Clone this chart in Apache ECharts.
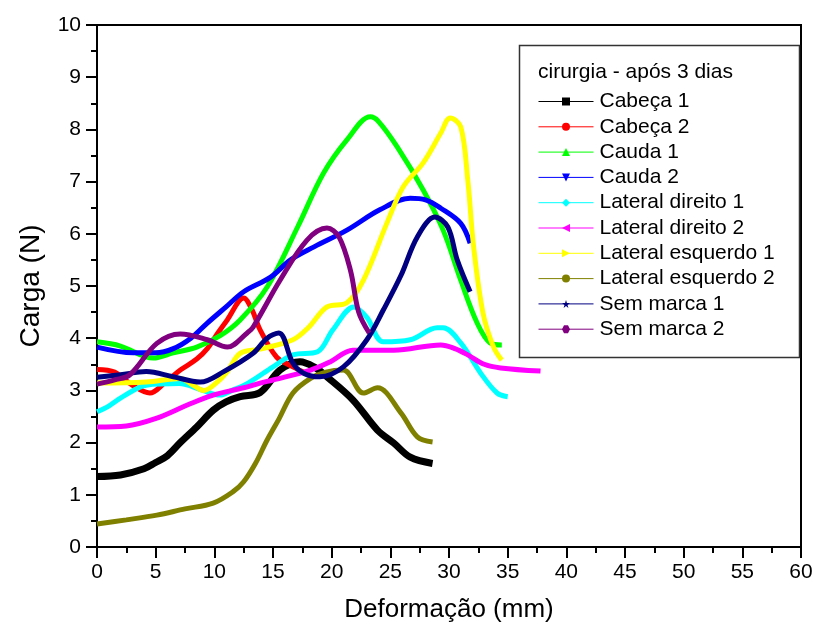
<!DOCTYPE html>
<html>
<head>
<meta charset="utf-8">
<script src="https://cdn.jsdelivr.net/npm/echarts@6/dist/echarts.min.js"></script>
<style>html,body{margin:0;padding:0;background:#fff}#c{width:815px;height:628px}</style>
</head>
<body>
<div id="c"></div>
<script>
const names = ['Cabeça 1','Cabeça 2','Cauda 1','Cauda 2','Lateral direito 1','Lateral direito 2','Lateral esquerdo 1','Lateral esquerdo 2','Sem marca 1','Sem marca 2'];
const colors = ['#000000','#ff0000','#00ff00','#0000ff','#00ffff','#ff00ff','#ffff00','#808000','#000080','#800080'];
const xTicks = [0,5,10,15,20,25,30,35,40,45,50,55,60];
const yTicks = [0,1,2,3,4,5,6,7,8,9,10];

const cabeca1 = [[0,1.35],[2,1.38],[4,1.5],[5,1.62],[6,1.75],[7.1,2.0],[8.5,2.3],[9.9,2.62],[11,2.78],[12.2,2.88],[13.9,2.96],[15.6,3.39],[17.3,3.55],[18.5,3.45],[19.6,3.26],[21.8,2.82],[23.9,2.24],[25.3,1.99],[26.7,1.72],[28.6,1.6]];
const cabeca2 = [[0,3.4],[1.5,3.35],[3,3.1],[4.5,2.95],[5.8,3.15],[7.1,3.39],[8.5,3.6],[9.4,3.8],[10.3,4.1],[11.1,4.35],[12.5,4.77],[13.2,4.55],[13.9,4.16],[15.3,3.64],[16.7,3.45],[17.6,3.35]];
const cauda1 = [[0,3.93],[2,3.85],[4.8,3.62],[6.5,3.72],[8.5,3.83],[10.5,4.05],[12.2,4.35],[14.5,4.98],[17.1,6.13],[19.3,7.16],[21.3,7.8],[23.3,8.24],[24,8.15],[25.6,7.66],[27.8,6.84],[29.5,6.07],[31,5.11],[32.4,4.29],[33.5,3.91],[34.5,3.87]];
const cauda2 = [[0,3.83],[3.1,3.72],[5,3.72],[6.5,3.8],[8,4.0],[9.4,4.29],[11,4.6],[12.5,4.89],[14.8,5.17],[16.5,5.5],[18.5,5.75],[21.3,6.07],[24.1,6.46],[26.7,6.68],[28,6.65],[29.3,6.49],[31,6.2],[31.8,5.82]];
const latDir1 = [[0,2.59],[1,2.7],[2.2,2.88],[4.2,3.1],[7,3.13],[9,3.0],[10.5,2.91],[11.5,3.0],[12.8,3.13],[15,3.45],[16.7,3.68],[18.8,3.74],[20.1,4.16],[21.9,4.6],[23,4.4],[24.4,3.93],[26.7,3.97],[29,4.2],[29.5,4.2],[31,3.91],[32.7,3.33],[34.1,2.95],[35,2.88]];
const latDir2 = [[0,2.3],[2.5,2.32],[5.1,2.47],[7.7,2.72],[9.9,2.91],[12.5,3.05],[13.9,3.14],[15,3.2],[18.2,3.39],[19.9,3.55],[21.8,3.77],[25.3,3.77],[29.3,3.87],[30.5,3.8],[31.6,3.68],[33,3.5],[34.4,3.43],[37.8,3.37]];
const latEsq1 = [[0,3.14],[4.2,3.16],[7.1,3.23],[8.2,3.1],[9.1,3.0],[10.2,3.15],[11.1,3.36],[12.2,3.71],[13.9,3.79],[16.7,3.97],[18,4.2],[19.6,4.6],[21.3,4.68],[22.7,5.11],[24.7,6.2],[26.1,6.9],[27.8,7.36],[29.3,7.93],[30.1,8.22],[31,8.05],[31.6,7.03],[32.1,5.75],[32.9,4.48],[33.8,3.83],[34.5,3.58]];
const latEsq2 = [[0,0.44],[2.5,0.52],[5.1,0.61],[7.5,0.73],[9.9,0.84],[11.6,1.06],[12.5,1.25],[13.5,1.6],[14.5,2.05],[15.5,2.45],[16.7,2.95],[18.2,3.23],[19.5,3.35],[21,3.39],[22.7,2.95],[23.9,3.05],[25.9,2.57],[27.3,2.11],[28.6,2.01]];
const semMarca1 = [[0,3.25],[2,3.3],[4.2,3.36],[6.5,3.26],[8.8,3.16],[10.8,3.36],[13.3,3.71],[14.5,4.0],[15.5,4.1],[16.7,3.52],[17.6,3.33],[19,3.26],[21,3.45],[23,3.97],[24.4,4.54],[25.9,5.2],[27.3,5.94],[28.8,6.32],[29.9,6.13],[30.7,5.5],[31.8,4.89]];
const semMarca2 = [[0,3.12],[1.5,3.2],[2.8,3.3],[5.1,3.9],[7.1,4.08],[9.4,3.97],[11.1,3.83],[12.8,4.1],[13.3,4.21],[15.6,5.11],[17.9,5.88],[19.6,6.11],[20.6,5.95],[21.6,5.3],[22.3,4.5],[23.2,4.1]];

const allData = [cabeca1,cabeca2,cauda1,cauda2,latDir1,latDir2,latEsq1,latEsq2,semMarca1,semMarca2];
const STAR = 'path://M50,0 L61,35 L98,35 L68,57 L79,91 L50,70 L21,91 L32,57 L2,35 L39,35 Z';
const HEX = 'path://M25,0 L75,0 L100,50 L75,100 L25,100 L0,50 Z';
const symbols = ['rect','circle','triangle','triangle','diamond','triangle','triangle','circle',STAR,HEX];
const rotates = [0,0,0,180,0,90,-90,0,0,0];

const FONT = '"Liberation Sans", Arial, sans-serif';
const chart = echarts.init(document.getElementById('c'), null, {renderer:'canvas'});
const series = names.map((n,i)=>({
  name:n, type:'line', data:allData[i], smooth:0.35, showSymbol:false,
  symbol:symbols[i], symbolRotate:rotates[i], symbolSize:8,
  lineStyle:{color:colors[i], width: i===0 ? 7 : 5},
  itemStyle:{color:colors[i]}, animation:false
}));

chart.setOption({
  animation:false,
  grid:{left:97,right:14,top:25,bottom:81,outerBoundsMode:'none',containLabel:false,show:true,borderColor:'#000',borderWidth:2,backgroundColor:'transparent'},
  xAxis:{type:'value',min:0,max:60,interval:5,
    name:'Deformação (mm)',nameLocation:'middle',nameGap:50,
    nameTextStyle:{fontFamily:FONT,fontSize:26,color:'#000'},
    axisLine:{show:true,onZero:false,lineStyle:{color:'#000',width:2}},
    axisTick:{show:true,length:11,lineStyle:{color:'#000',width:2}},
    minorTick:{show:true,splitNumber:2,length:6,lineStyle:{color:'#000',width:2}},
    splitLine:{show:false},
    axisLabel:{fontFamily:FONT,fontSize:21,color:'#000',margin:15,
      formatter:v=>xTicks.includes(v)?String(v):''}
  },
  yAxis:{type:'value',min:0,max:10,interval:1,
    name:'Carga (N)',nameLocation:'middle',nameGap:52,nameRotate:90,
    nameTextStyle:{fontFamily:FONT,fontSize:28,color:'#000'},
    axisLine:{show:true,onZero:false,lineStyle:{color:'#000',width:2}},
    axisTick:{show:true,length:11,lineStyle:{color:'#000',width:2}},
    minorTick:{show:true,splitNumber:2,length:6,lineStyle:{color:'#000',width:2}},
    splitLine:{show:false},
    axisLabel:{fontFamily:FONT,fontSize:21,color:'#000',margin:16,
      formatter:v=>yTicks.includes(v)?String(v):''}
  },
  legend:{
    data:names, orient:'vertical', left:538, top:91, padding:0,
    itemWidth:55, itemHeight:10, itemGap:4.3, selectedMode:false,
    lineStyle:{width:1}, symbolRotate:'inherit',
    textStyle:{fontFamily:FONT,fontSize:21,color:'#000',padding:[0,0,0,1]}
  },
  graphic:[
    {type:'rect',left:517,top:43,shape:{width:280,height:312},style:{fill:'none',stroke:'#333',lineWidth:1.5},z:0},
    {type:'text',left:538,top:62,style:{text:'cirurgia - após 3 dias',font:'21px "Liberation Sans", Arial, sans-serif',fill:'#000'}}
  ],
  series:series
});
</script>
</body>
</html>
